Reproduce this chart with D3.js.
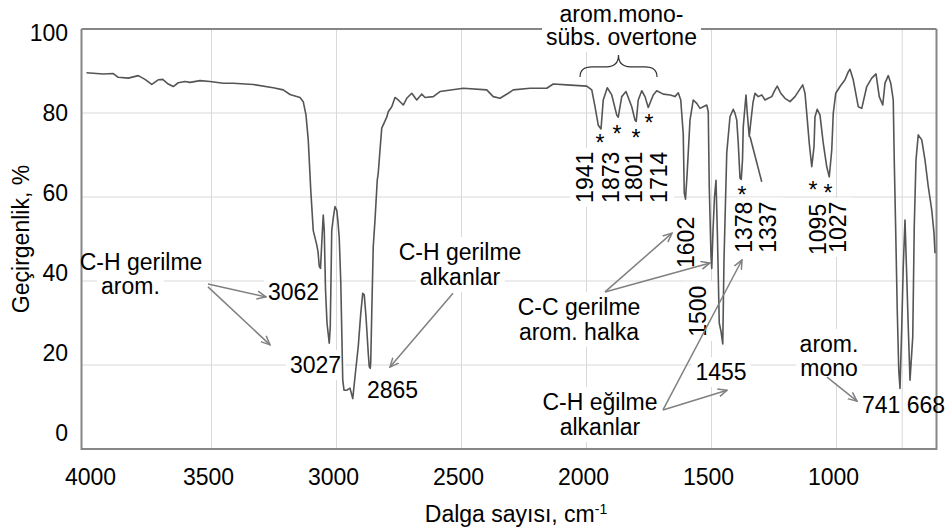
<!DOCTYPE html>
<html>
<head>
<meta charset="utf-8">
<script src="https://cdn.jsdelivr.net/npm/d3@7"></script>
<style>
body { margin: 0; background: #fff; }
text { font-family: "Liberation Sans", Arial, sans-serif; }
</style>
</head>
<body>
<script>

// IR spectrum (wavenumber, %T)
var waveNumbers = [4000,3960,3933,3893,3873,3833,3793,3766,3739,3713,3695,3673,3653,3633,3606,3586,3546,3506,3453,3413,3333,3253,3213,3186,3146,3133,3122,3113,3103,3093,3079,3074,3069,3064,3059,3053,3049,3044,3038,3029,3025,3019,3013,3006,2999,2994,2989,2983,2975,2970,2958,2946,2935,2926,2913,2903,2895,2889,2882,2873,2869,2865,2863,2859,2853,2846,2837,2833,2826,2819,2799,2793,2779,2766,2753,2733,2719,2699,2679,2659,2646,2613,2586,2493,2399,2373,2346,2313,2293,2226,2159,2133,2079,1999,1979,1966,1953,1942,1933,1917,1899,1879,1873,1859,1842,1819,1806,1801,1793,1779,1766,1753,1733,1719,1693,1665,1646,1633,1623,1613,1609,1604,1598,1586,1573,1559,1546,1533,1519,1513,1509,1502,1499,1494,1488,1482,1476,1469,1462,1455,1450,1439,1426,1413,1406,1399,1393,1386,1381,1376,1373,1362,1357,1349,1342,1334,1326,1313,1299,1286,1273,1259,1246,1237,1223,1206,1186,1166,1153,1135,1126,1119,1109,1099,1090,1086,1077,1066,1053,1039,1029,1019,1013,1003,986,966,953,946,933,913,899,879,859,842,829,815,806,793,783,773,769,763,757,751,746,739,733,726,719,713,706,695,689,682,673,659,646,633,619,610,606];
var transmittance = [89.6,89.4,89.3,89.4,88.5,88.3,88.9,88.0,86.8,87.9,88.0,86.9,86.3,87.2,87.5,87.3,87.7,87.5,87.1,87.1,86.8,86.0,85.5,84.4,83.7,82.7,79.5,73.6,61.7,52,48.6,47,43.5,43,49,55.7,52,38,30,25.2,29,52,55,57.7,56.9,54,50.2,40,16.4,14,14,14.5,12,17.2,24.4,32.3,37.1,36.7,31.5,22.8,19.6,19.2,20.8,32.3,48.2,54.5,64,65.7,71.2,76.4,79,80.3,81.5,83.7,83.1,81.9,83.5,84.7,83.1,84.5,83.7,83.9,85.1,85.9,85.5,83.9,83.5,84.7,85.5,85.9,85.9,86.9,86.7,86.4,85.5,81.5,77.1,76.2,83.1,86.0,84.3,79.5,79.0,83.9,85.1,81.5,78.3,78.0,83.1,85.3,83.9,81.3,84.3,85.3,84.5,84.3,83.9,84.8,83.1,75,61,59.5,65,78.3,83.1,82.3,81.1,81.5,81.9,80.3,62.5,46,43,52,60,64,50,30,28,25,45,70.5,79.1,80.9,79.9,78.3,72.8,64.5,64.2,68.8,76.7,84.3,80,74.4,78.3,82.5,84.7,83.9,84.3,83.1,83.5,83.9,85.5,86.4,84.7,83.5,82.7,83.9,85.1,86.7,84.7,79.9,72.8,67.2,72,79.1,80.9,79.5,72.8,67.2,64.8,71.2,79.9,84.7,86.3,87.9,89.8,90.4,87.9,81.5,81.1,86.3,88.3,89.3,83.9,81.9,87.1,88.9,87.1,83.1,68.8,51.4,33.1,18.8,14.4,29.1,43.4,54.5,41,29.1,16.4,26.7,52.9,68.8,74.8,73.6,68.8,62.5,56.9,51.4,46.6];

// stray trace segment under the 1337 band
var strayWave = [1346, 1299];
var strayT = [74.4, 63.6];

var xTicks = [4000, 3500, 3000, 2500, 2000, 1500, 1000];
var xGrid = [3500, 3000, 2500, 2000, 1500, 1000, 737];
var yTicks = [0, 20, 40, 60, 80, 100];
var yGrid = [20, 40, 60, 80];

// horizontal notes: text, anchor, wavenumber, %T (baseline)
var noteText = ["C-H gerilme","arom.","3062","3027","2865","C-H gerilme","alkanlar","C-C gerilme","arom. halka","C-H eğilme","alkanlar","1455","arom.","mono","741 668","arom.mono-","sübs. overtone"];
var noteAnchor = ["middle","start","start","start","start","middle","middle","middle","middle","middle","middle","middle","middle","middle","start","middle","middle"];
var noteWave = [3782,3942,3274,3186,2878,2506,2506,2030,2030,1946,1946,1462,1030,1030,898,1860,1860];
var noteT = [42.6,36.9,35.5,18.1,12.1,45,39.0,31.9,26.0,9.3,3.3,16.4,23.1,17.4,8.6,101.7,96.2];

// rotated peak labels: text, wavenumber of baseline, %T of start
var peakText = ["1941","1873","1801","1714","1602","1500","1378","1337","1095","1027"];
var peakWave = [1974,1870,1778,1678,1570,1522,1338,1242,1042,962];
var peakT = [58.6,58.6,58.6,58.6,43.1,26.7,46.7,46.7,46.2,46.7];

// asterisks under the marked bands
var starWave = [1946,1878,1802,1750,1378,1094,1034];
var starT = [74.0,76.2,75.2,78.8,61.7,62.9,62.1];

// arrows: from -> to
var arrowFrom = [[3514,39.3],[3514,38.6],[2534,37.1],[1926,37.4],[1926,37.4],[1694,9.3],[1694,9.3],[1038,17.1]];
var arrowTo = [[3282,36.2],[3266,24.8],[2786,19.5],[1658,51.4],[1506,44.3],[1378,45.0],[1438,14.0],[918,11.4]];

// brace over the overtone bands
var braceWave = [2026, 1872, 1718];
var braceT = [88.6, 91.0, 93.8];

var fontSize = 23;
var gridColor = "#d9d9d9";
var frameColor = "#868686";
var arrowColor = "#808080";

var x = d3.scaleLinear().domain([4020, 600]).range([81.5, 936.5]);
var y = d3.scaleLinear().domain([0, 100]).range([449, 29]);
// tick labels sit on a slightly tighter spacing than the grid
var yLab = d3.scaleLinear().domain([0, 100]).range([433, 33]);

var svg = d3.select("body").append("svg")
    .attr("width", 952)
    .attr("height", 530);

svg.append("rect").attr("width", 952).attr("height", 530).attr("fill", "#fff");

var defs = svg.append("defs");
defs.append("marker")
    .attr("id", "arr")
    .attr("viewBox", "0 0 10 10")
    .attr("refX", 9)
    .attr("refY", 5)
    .attr("markerWidth", 10)
    .attr("markerHeight", 10)
    .attr("markerUnits", "userSpaceOnUse")
    .attr("orient", "auto")
  .append("path")
    .attr("d", "M0,1 L9,5 L0,9")
    .attr("fill", "none")
    .attr("stroke", arrowColor)
    .attr("stroke-width", 1.5);

//grid
svg.append("g").selectAll("line").data(yGrid).enter().append("line")
    .attr("x1", x.range()[0]).attr("x2", x.range()[1])
    .attr("y1", function(d) { return y(d); })
    .attr("y2", function(d) { return y(d); })
    .attr("stroke", gridColor).attr("stroke-width", 1);

svg.append("g").selectAll("line").data(xGrid).enter().append("line")
    .attr("x1", function(d) { return x(d); })
    .attr("x2", function(d) { return x(d); })
    .attr("y1", y(0)).attr("y2", y(100))
    .attr("stroke", gridColor).attr("stroke-width", 1);

// top border goes under the label boxes
svg.append("line")
    .attr("x1", x.range()[0]).attr("x2", x.range()[1])
    .attr("y1", y(100)).attr("y2", y(100))
    .attr("stroke", frameColor).attr("stroke-width", 2);

var boxLayer = svg.append("g");
var frameLayer = svg.append("g");
var lineLayer = svg.append("g");
var textLayer = svg.append("g");

frameLayer.append("path")
    .attr("d", "M" + x.range()[0] + "," + y(100) + " V" + y(0) + " H" + x.range()[1] + " V" + y(100))
    .attr("fill", "none")
    .attr("stroke", frameColor)
    .attr("stroke-width", 2);

//axes
var xAxis = d3.axisBottom(x).tickValues(xTicks).tickFormat(d3.format("d")).tickSize(0).tickPadding(20);
var gx = svg.append("g").attr("transform", "translate(0," + y(0) + ")").call(xAxis);
gx.select(".domain").remove();
gx.selectAll("text")
    .attr("font-size", fontSize)
    .attr("fill", "#000")
    .attr("dx", function(d) { return Math.max(x(d) - 3.5, 90) - x(d); });

var yAxis = d3.axisLeft(yLab).tickValues(yTicks).tickFormat(d3.format("d")).tickSize(0).tickPadding(13.5);
var gy = svg.append("g").attr("transform", "translate(" + x.range()[0] + ",0)").call(yAxis);
gy.select(".domain").remove();
gy.selectAll("text")
    .attr("font-size", fontSize)
    .attr("fill", "#000");

var xTitle = svg.append("text")
    .attr("x", (x.range()[0] + x.range()[1]) / 2 + 7)
    .attr("y", 522)
    .attr("text-anchor", "middle")
    .attr("font-size", fontSize)
    .attr("fill", "#000")
    .text("Dalga sayısı, cm");
xTitle.append("tspan")
    .attr("baseline-shift", "super")
    .attr("font-size", 14)
    .text("-1");

svg.append("text")
    .attr("transform", "translate(29," + (y(0) + y(100)) / 2 + ") rotate(-90)")
    .attr("text-anchor", "middle")
    .attr("font-size", fontSize)
    .attr("fill", "#000")
    .text("Geçirgenlik, %");

// white box behind a label
function addBox(t, pad) {
  var b = t.node().getBBox();
  boxLayer.append("rect")
      .attr("x", b.x - pad)
      .attr("y", b.y - pad / 2)
      .attr("width", b.width + 2 * pad)
      .attr("height", b.height + pad)
      .attr("transform", t.attr("transform"))
      .attr("fill", "#fff");
}

//notes
noteText.forEach(function(s, i) {
  var t = textLayer.append("text")
      .attr("x", x(noteWave[i]))
      .attr("y", y(noteT[i]))
      .attr("text-anchor", noteAnchor[i])
      .attr("font-size", fontSize)
      .attr("fill", "#000")
      .text(s);
  if (s != "741 668") addBox(t, 4);
});

peakText.forEach(function(s, i) {
  var t = textLayer.append("text")
      .attr("transform", "translate(" + x(peakWave[i]) + "," + y(peakT[i]) + ") rotate(-90)")
      .attr("font-size", fontSize)
      .attr("fill", "#000")
      .text(s);
  addBox(t, 4);
});

starWave.forEach(function(w, i) {
  textLayer.append("text")
      .attr("x", x(w))
      .attr("y", y(starT[i]) + 13)
      .attr("text-anchor", "middle")
      .attr("font-size", fontSize)
      .attr("fill", "#000")
      .text("*");
});

//spectrum
var line = d3.line()
    .x(function(d) { return x(d[0]); })
    .y(function(d) { return y(d[1]); });

lineLayer.append("path")
    .datum(d3.zip(waveNumbers, transmittance))
    .attr("d", line)
    .attr("fill", "none")
    .attr("stroke", "#555")
    .attr("stroke-width", 1.6)
    .attr("stroke-linejoin", "round");

lineLayer.append("path")
    .datum(d3.zip(strayWave, strayT))
    .attr("d", line)
    .attr("fill", "none")
    .attr("stroke", "#555")
    .attr("stroke-width", 1.6);

//arrows
arrowFrom.forEach(function(f, i) {
  textLayer.append("line")
      .attr("x1", x(f[0])).attr("y1", y(f[1]))
      .attr("x2", x(arrowTo[i][0])).attr("y2", y(arrowTo[i][1]))
      .attr("stroke", arrowColor)
      .attr("stroke-width", 1.5)
      .attr("marker-end", "url(#arr)");
});

//brace
var bx1 = x(braceWave[0]), bxc = x(braceWave[1]), bx2 = x(braceWave[2]);
var byb = y(braceT[0]), bym = y(braceT[1]), byt = y(braceT[2]);
textLayer.append("path")
    .attr("d", "M" + bx1 + "," + byb +
               " Q" + bx1 + "," + bym + " " + (bx1 + 12) + "," + bym +
               " L" + (bxc - 12) + "," + bym +
               " Q" + bxc + "," + bym + " " + bxc + "," + byt +
               " Q" + bxc + "," + bym + " " + (bxc + 12) + "," + bym +
               " L" + (bx2 - 12) + "," + bym +
               " Q" + bx2 + "," + bym + " " + bx2 + "," + byb)
    .attr("fill", "none")
    .attr("stroke", "#333")
    .attr("stroke-width", 1.2);

</script>
</body>
</html>
